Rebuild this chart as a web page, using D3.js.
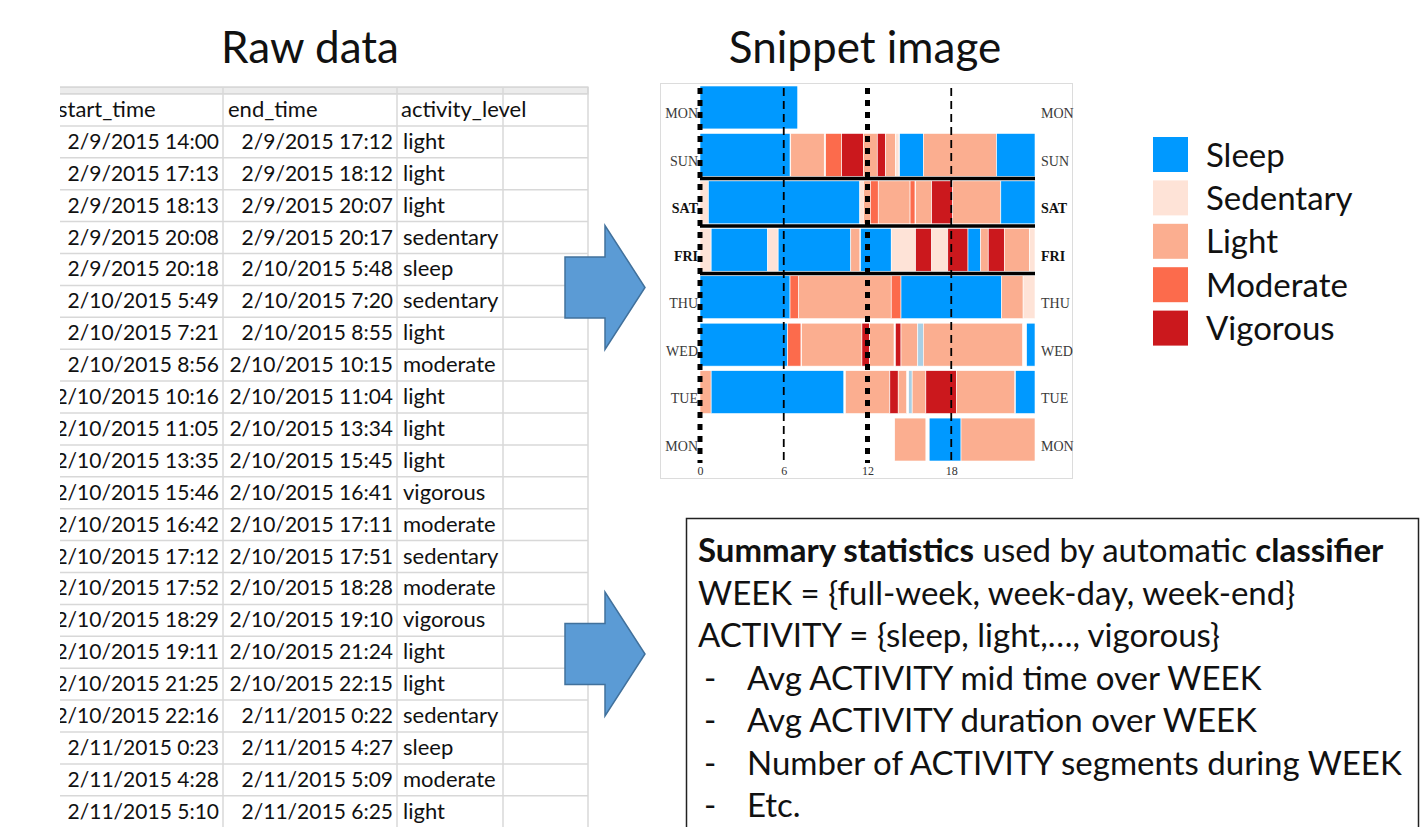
<!DOCTYPE html>
<html>
<head>
<meta charset="utf-8">
<script src="https://cdn.jsdelivr.net/npm/d3@7"></script>
<style>
  body { margin: 0; background: #fff; }
  svg { display: block; }
</style>
</head>
<body>
<div id="chart"></div>
<script>
// raw data table (spreadsheet clip)
var tableHeader = ['start_time', 'end_time', 'activity_level'];
var startTimes = ['2/9/2015 14:00', '2/9/2015 17:13', '2/9/2015 18:13', '2/9/2015 20:08', '2/9/2015 20:18',
  '2/10/2015 5:49', '2/10/2015 7:21', '2/10/2015 8:56', '2/10/2015 10:16', '2/10/2015 11:05', '2/10/2015 13:35',
  '2/10/2015 15:46', '2/10/2015 16:42', '2/10/2015 17:12', '2/10/2015 17:52', '2/10/2015 18:29', '2/10/2015 19:11',
  '2/10/2015 21:25', '2/10/2015 22:16', '2/11/2015 0:23', '2/11/2015 4:28', '2/11/2015 5:10'];
var endTimes = ['2/9/2015 17:12', '2/9/2015 18:12', '2/9/2015 20:07', '2/9/2015 20:17', '2/10/2015 5:48',
  '2/10/2015 7:20', '2/10/2015 8:55', '2/10/2015 10:15', '2/10/2015 11:04', '2/10/2015 13:34', '2/10/2015 15:45',
  '2/10/2015 16:41', '2/10/2015 17:11', '2/10/2015 17:51', '2/10/2015 18:28', '2/10/2015 19:10', '2/10/2015 21:24',
  '2/10/2015 22:15', '2/11/2015 0:22', '2/11/2015 4:27', '2/11/2015 5:09', '2/11/2015 6:25'];
var levels = ['light', 'light', 'light', 'sedentary', 'sleep', 'sedentary', 'light', 'moderate', 'light', 'light', 'light',
  'vigorous', 'moderate', 'sedentary', 'moderate', 'vigorous', 'light', 'light', 'sedentary', 'sleep', 'moderate', 'light'];

// snippet image: rows top to bottom, segments [start hour, end hour, category]
var dayLabels = ['MON', 'SUN', 'SAT', 'FRI', 'THU', 'WED', 'TUE', 'MON'];
var boldDays = ['SAT', 'FRI'];
var segMon2 = [[0, 7.0, 'sleep']];
var segSun = [[0, 6.45, 'sleep'], [6.5, 8.9, 'light'], [9.0, 10.15, 'moderate'], [10.15, 11.7, 'vigorous'],
  [11.7, 12.7, 'light'], [12.7, 13.3, 'vigorous'], [13.3, 14.0, 'light'], [14.0, 14.25, 'sedentary'],
  [14.3, 16.0, 'sleep'], [16.0, 21.25, 'light'], [21.25, 24, 'sleep']];
var segSat = [[0, 0.6, 'sedentary'], [0.6, 11.45, 'sleep'], [11.45, 11.7, 'sedentary'], [11.7, 12.2, 'light'],
  [12.2, 12.77, 'moderate'], [12.77, 15.05, 'light'], [15.05, 15.4, 'moderate'], [15.45, 16.6, 'light'],
  [16.6, 18.1, 'vigorous'], [18.1, 21.55, 'light'], [21.55, 24, 'sleep']];
var segFri = [[0, 0.8, 'sedentary'], [0.8, 4.85, 'sleep'], [4.85, 5.6, 'sedentary'], [5.6, 10.8, 'sleep'],
  [10.8, 11.45, 'light'], [11.5, 13.7, 'sleep'], [13.7, 15.45, 'sedentary'], [15.45, 16.6, 'vigorous'],
  [16.6, 17.75, 'sedentary'], [17.75, 19.2, 'vigorous'], [19.2, 20.1, 'sleep'], [20.1, 20.65, 'light'],
  [20.65, 21.8, 'vigorous'], [21.8, 23.6, 'light'], [23.6, 24, 'sedentary']];
var segThu = [[0, 6.45, 'sleep'], [6.45, 7.05, 'moderate'], [7.05, 13.7, 'light'], [13.7, 14.4, 'moderate'],
  [14.4, 21.6, 'sleep'], [21.6, 23.15, 'light'], [23.15, 24, 'sedentary']];
var segWed = [[0, 6.28, 'sleep'], [6.28, 7.23, 'moderate'], [7.28, 11.6, 'light'], [11.6, 12.15, 'vigorous'],
  [12.15, 13.9, 'light'], [14.0, 14.4, 'vigorous'], [14.4, 15.6, 'light'], [15.6, 16.0, 'unknown'],
  [16.0, 23.1, 'light'], [23.4, 24, 'sleep']];
var segTue = [[0, 0.8, 'light'], [0.8, 10.3, 'sleep'], [10.42, 13.6, 'light'], [13.6, 14.2, 'vigorous'],
  [14.2, 14.8, 'light'], [14.95, 15.2, 'unknown'], [15.2, 16.18, 'light'], [16.18, 18.38, 'vigorous'],
  [18.38, 22.55, 'light'], [22.6, 24, 'sleep']];
var segMon1 = [[13.95, 16.18, 'light'], [16.42, 18.7, 'sleep'], [18.7, 24, 'light']];
var hourTicks = [0, 6, 12, 18];
var weekLines = [2, 3, 4]; // thick separators sit above these row indices

var categories = ['sleep', 'sedentary', 'light', 'moderate', 'vigorous', 'unknown'];
var catColors = ['#0099ff', '#fee3d7', '#fbae90', '#fc6b4c', '#cb181d', '#a9cfe4'];
var legendLabels = ['Sleep', 'Sedentary', 'Light', 'Moderate', 'Vigorous'];

var summaryLines = [
  [['Summary statistics', true], [' used by automatic ', false], ['classifier', true]],
  [['WEEK = {full-week, week-day, week-end}', false]],
  [['ACTIVITY = {sleep, light,\u2026, vigorous}', false]],
  [['Avg ACTIVITY mid time over WEEK', false]],
  [['Avg ACTIVITY duration over WEEK', false]],
  [['Number of ACTIVITY segments during WEEK', false]],
  [['Etc.', false]]
];
var bulletFrom = 3;

var width = 1420, height = 827;
var svg = d3.select('#chart').append('svg')
  .attr('width', width)
  .attr('height', height);

var sans = 'Lato, "Open Sans", sans-serif';
var serif = '"Liberation Serif", "DejaVu Serif", serif';

// titulos
svg.append('text').attr('x', 310).attr('y', 63).attr('text-anchor', 'middle')
  .attr('font-family', sans).attr('font-size', 44).attr('fill', '#111').text('Raw data');
svg.append('text').attr('x', 865).attr('y', 63).attr('text-anchor', 'middle')
  .attr('font-family', sans).attr('font-size', 44).attr('fill', '#111').text('Snippet image');

// ---------- tabla ----------
var tableRows = startTimes.map((s, i) => [s, endTimes[i], levels[i]]);
var rowScale = d3.scaleBand()
  .domain(d3.range(tableRows.length + 1))
  .range([94, 94 + 31.9 * (tableRows.length + 1)]);
var colLines = [223, 397, 503, 588];

svg.append('clipPath').attr('id', 'tclip')
  .append('rect').attr('x', 60).attr('y', 80).attr('width', 530).attr('height', 760);
var table = svg.append('g').attr('clip-path', 'url(#tclip)');

table.append('rect').attr('x', 40).attr('y', 87).attr('width', 548).attr('height', 7)
  .attr('fill', '#ececec').attr('stroke', '#c4c4c4');
table.selectAll('line.h')
  .data(d3.range(tableRows.length + 1))
  .enter().append('line')
  .attr('x1', 40).attr('x2', 588)
  .attr('y1', (d) => rowScale(d) + rowScale.bandwidth())
  .attr('y2', (d) => rowScale(d) + rowScale.bandwidth())
  .attr('stroke', '#d8d8d8').attr('stroke-width', 1.5);
table.selectAll('line.v')
  .data(colLines)
  .enter().append('line')
  .attr('x1', (d) => d).attr('x2', (d) => d)
  .attr('y1', 87).attr('y2', 830)
  .attr('stroke', '#d8d8d8').attr('stroke-width', 1.5);

var headX = [58, 228, 401];
table.selectAll('text.head')
  .data(tableHeader)
  .enter().append('text')
  .attr('x', (d, i) => headX[i])
  .attr('y', rowScale(0) + rowScale.bandwidth() / 2 + 7)
  .attr('font-family', sans).attr('font-size', 22).attr('fill', '#111')
  .text((d) => d);

var rowG = table.selectAll('g.row')
  .data(tableRows)
  .enter().append('g')
  .attr('transform', (d, i) => 'translate(0,' + (rowScale(i + 1) + rowScale.bandwidth() / 2 + 7) + ')');
rowG.append('text').attr('x', 219).attr('text-anchor', 'end')
  .attr('font-family', sans).attr('font-size', 21).attr('fill', '#111').text((d) => d[0]);
rowG.append('text').attr('x', 393).attr('text-anchor', 'end')
  .attr('font-family', sans).attr('font-size', 21).attr('fill', '#111').text((d) => d[1]);
rowG.append('text').attr('x', 403)
  .attr('font-family', sans).attr('font-size', 22).attr('fill', '#111').text((d) => d[2]);

// ---------- flechas ----------
function arrowPath(x0, cy) {
  // shaft 61 alto, cabeza 124 alto
  return 'M' + x0 + ',' + (cy - 30.5) + 'H' + (x0 + 40) + 'V' + (cy - 62) +
    'L' + (x0 + 80) + ',' + cy + 'L' + (x0 + 40) + ',' + (cy + 62) + 'V' + (cy + 30.5) +
    'H' + x0 + 'Z';
}
svg.selectAll('path.arrow')
  .data([287.5, 654])
  .enter().append('path')
  .attr('d', (d) => arrowPath(565, d))
  .attr('fill', '#5b9bd5').attr('stroke', '#41719c').attr('stroke-width', 1.5);

// ---------- snippet ----------
svg.append('rect').attr('x', 660.5).attr('y', 83.5).attr('width', 412).attr('height', 395)
  .attr('fill', '#fff').attr('stroke', '#dcdcdc');

var x = d3.scaleLinear().domain([0, 24]).range([700, 1035]);
var y = d3.scaleBand().domain(d3.range(dayLabels.length)).range([86, 461])
  .paddingInner(0.095).paddingOuter(0);
var color = d3.scaleOrdinal().domain(categories).range(catColors);

var rows = [segMon2, segSun, segSat, segFri, segThu, segWed, segTue, segMon1];
var snip = svg.append('g');
snip.selectAll('g.day')
  .data(rows)
  .enter().append('g')
  .attr('transform', (d, i) => 'translate(0,' + y(i) + ')')
  .selectAll('rect')
  .data((d) => d)
  .enter().append('rect')
  .attr('x', (d) => x(d[0]))
  .attr('width', (d) => x(d[1]) - x(d[0]))
  .attr('height', y.bandwidth())
  .attr('fill', (d) => color(d[2]))
  .attr('stroke', '#fff').attr('stroke-width', 0.6);

// etiquetas de dias
[[698, 'end'], [1041, 'start']].forEach(function (p) {
  snip.selectAll(null)
    .data(dayLabels)
    .enter().append('text')
    .attr('x', p[0])
    .attr('y', (d, i) => y(i) + y.bandwidth() / 2 + 11)
    .attr('text-anchor', p[1])
    .attr('font-family', serif).attr('font-size', 14)
    .attr('font-weight', (d) => boldDays.includes(d) ? 'bold' : 'normal')
    .attr('fill', (d) => boldDays.includes(d) ? '#111' : '#3a3a3a')
    .text((d) => d);
});

// lineas verticales
snip.selectAll('line.vh')
  .data(hourTicks)
  .enter().append('line')
  .attr('x1', (d) => x(d)).attr('x2', (d) => x(d))
  .attr('y1', 88).attr('y2', 463)
  .attr('stroke', '#000')
  .attr('stroke-width', (d) => d % 12 === 0 ? 5 : 1.8)
  .attr('stroke-dasharray', (d) => d % 12 === 0 ? '6,6' : '8,5');

// separadores de semana
snip.selectAll('line.wk')
  .data(weekLines)
  .enter().append('line')
  .attr('x1', x(0)).attr('x2', x(24))
  .attr('y1', (d) => y(d) - y.step() * y.paddingInner() / 2)
  .attr('y2', (d) => y(d) - y.step() * y.paddingInner() / 2)
  .attr('stroke', '#000').attr('stroke-width', 3.5);

var xAxis = d3.axisBottom(x).tickValues(hourTicks).tickSize(0).tickPadding(0);
snip.append('g')
  .attr('transform', 'translate(0,466)')
  .call(xAxis)
  .call((g) => g.select('.domain').remove())
  .call((g) => g.selectAll('text').attr('font-family', serif).attr('font-size', 12).attr('fill', '#333'));

// ---------- leyenda ----------
var legend = svg.append('g');
var legY = d3.scaleBand().domain(legendLabels).range([137, 137 + 43.4 * 5]);
legend.selectAll('rect')
  .data(legendLabels)
  .enter().append('rect')
  .attr('x', 1153).attr('y', (d) => legY(d))
  .attr('width', 35).attr('height', 35)
  .attr('fill', (d) => color(d.toLowerCase()));
legend.selectAll('text')
  .data(legendLabels)
  .enter().append('text')
  .attr('x', 1206).attr('y', (d) => legY(d) + 29.5)
  .attr('font-family', sans).attr('font-size', 33).attr('fill', '#111')
  .text((d) => d);

// ---------- caja resumen ----------
svg.append('rect').attr('x', 686.5).attr('y', 518.5).attr('width', 732).attr('height', 400)
  .attr('fill', 'none').attr('stroke', '#222').attr('stroke-width', 1.5);
var sumY = d3.scaleLinear().domain([0, 1]).range([562, 604.5]);
var sumText = svg.append('g').attr('font-family', sans).attr('font-size', 33).attr('fill', '#111');
summaryLines.forEach(function (line, i) {
  var t = sumText.append('text')
    .attr('x', i >= bulletFrom ? 747 : 698)
    .attr('y', sumY(i));
  t.selectAll('tspan')
    .data(line)
    .enter().append('tspan')
    .attr('font-weight', (d) => d[1] ? 'bold' : 'normal')
    .text((d) => d[0]);
  if (i >= bulletFrom) {
    sumText.append('text').attr('x', 704).attr('y', sumY(i)).text('-');
  }
});
</script>
</body>
</html>
